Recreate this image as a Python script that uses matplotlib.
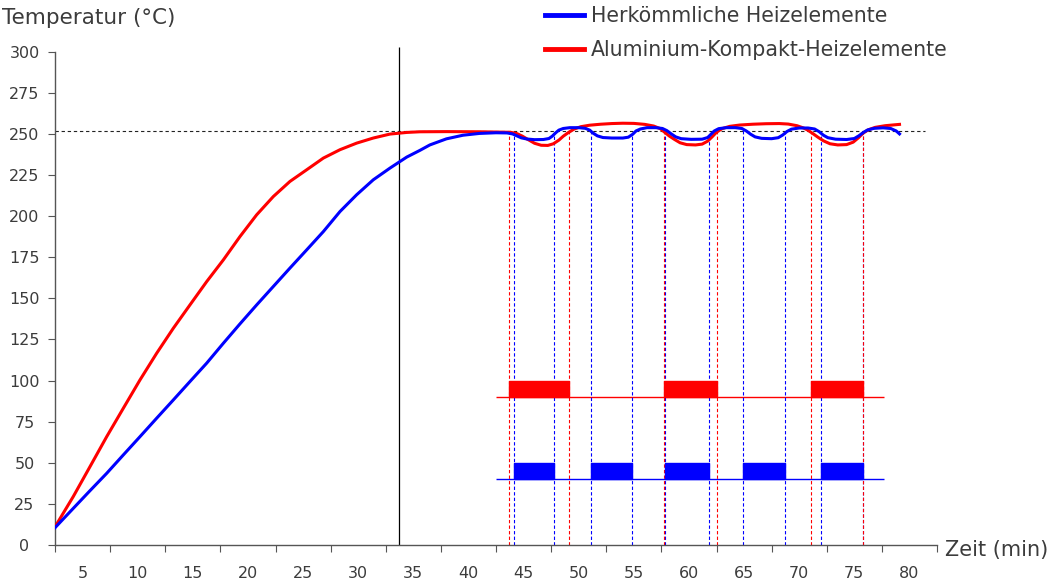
import numpy as np
import matplotlib.pyplot as plt
from matplotlib.lines import Line2D

# ---- data ----
# heating curve, conventional elements (blue)
blue_t = [2.5, 4.16, 5.67, 7.19, 8.70, 10.21, 11.72, 13.23, 14.74, 16.26, 17.77, 19.28, 20.79,
          22.30, 23.81, 25.33, 26.84, 28.35, 29.86, 31.37, 32.88, 34.40, 35.6, 36.5, 38.0, 39.5,
          41.0, 42.5, 43.5,
          44.0, 44.4, 44.8, 45.3, 46.0, 46.8, 47.3, 47.6, 47.9, 48.2, 48.6, 49.2, 50.0, 50.6,
          51.0, 51.3, 51.7, 52.2, 53.0, 54.0, 54.5, 54.9, 55.2, 55.6, 56.2, 57.0, 57.6, 58.0,
          58.4, 58.8, 59.3, 60.2, 61.2, 61.7, 62.0, 62.3, 62.7, 63.4, 64.2, 64.8, 65.2, 65.6,
          66.0, 66.6, 67.5, 68.1, 68.5, 68.9, 69.3, 70.0, 70.8, 71.4, 71.8, 72.2, 72.6, 73.3,
          74.3, 75.0, 75.4, 75.8, 76.2, 76.8, 77.6, 78.3, 78.8, 79.1]
blue_T = [10.5, 22.3, 33.0, 43.6, 54.8, 65.9, 77.1, 88.2, 99.4, 110.6, 122.7, 134.5, 146.0,
          157.2, 168.4, 179.5, 190.6, 202.8, 213.0, 222.1, 229.2, 235.9, 240.0, 243.3, 247.0, 249.2,
          250.3, 250.7, 250.6,
          250.0, 248.8, 247.6, 246.9, 246.5, 246.6, 247.2, 248.6, 250.6, 252.3, 253.3, 253.8, 253.8, 253.4,
          252.3, 250.5, 248.8, 247.8, 247.5, 247.5, 248.0, 249.8, 251.8, 253.0, 253.8, 253.8, 253.3, 252.0,
          250.0, 248.2, 247.1, 246.7, 246.8, 247.8, 249.8, 251.8, 253.2, 253.8, 253.8, 253.3, 251.8, 249.8,
          248.2, 247.3, 247.1, 247.7, 249.3, 251.5, 252.9, 253.6, 253.6, 253.0, 251.4, 249.2, 247.7, 246.8,
          246.6, 247.2, 248.8, 250.8, 252.4, 253.4, 253.7, 253.3, 251.8, 250.0]

# heating curve, aluminium compact elements (red)
red_t = [2.5, 4.16, 5.67, 7.19, 8.70, 10.21, 11.72, 13.23, 14.74, 16.26, 17.77, 19.28, 20.79,
         22.30, 23.81, 25.33, 26.84, 28.35, 29.86, 31.37, 32.88, 34.40, 35.6, 38.0, 41.0, 43.8,
         44.4, 44.9, 45.4, 46.0, 46.6, 47.2, 47.7, 48.2, 48.6, 49.1, 49.6, 50.2, 51.0, 52.0,
         53.0, 54.0, 55.0, 56.0, 56.8, 57.4, 57.8, 58.2, 58.7, 59.2, 59.8, 60.6, 61.2, 61.7,
         62.1, 62.5, 63.0, 63.7, 64.6, 65.8, 67.0, 68.2, 69.0, 69.8, 70.4, 70.8, 71.2, 71.7,
         72.2, 72.8, 73.5, 74.3, 74.9, 75.4, 75.8, 76.3, 76.9, 77.8, 78.6, 79.1]
red_T = [11.0, 29.5, 47.6, 65.9, 83.2, 100.4, 116.6, 131.8, 146.0, 160.2, 173.4, 187.6, 200.8,
         211.9, 221.1, 228.2, 235.3, 240.4, 244.4, 247.5, 249.9, 250.9, 251.3, 251.4, 251.3, 251.0,
         250.2, 248.6, 246.6, 244.3, 243.1, 243.0, 244.0, 246.2, 248.6, 251.0, 253.0, 254.4, 255.3, 255.9,
         256.3, 256.5, 256.4, 255.8, 254.8, 253.2, 251.0, 248.8, 246.6, 244.6, 243.5, 243.3, 243.8, 245.6,
         248.2, 251.0, 253.2, 254.6, 255.4, 255.9, 256.2, 256.3, 256.0, 255.0, 253.6, 252.2, 250.4, 248.0,
         245.8, 244.0, 243.3, 243.5, 245.0, 247.8, 250.5, 252.6, 254.0, 255.0, 255.5, 255.8]

# heater on-times (start, end) in min
blue_on = [(44.1, 47.8), (51.1, 54.8), (57.8, 61.8), (64.9, 68.7), (72.0, 75.8)]
red_on = [(43.7, 49.1), (57.7, 62.5), (71.1, 75.8)]

setpoint = 251.5
t_mark = 33.7
x_labels = list(range(5, 85, 5))
y_ticks = list(range(0, 325, 25))

plt.rcParams['font.family'] = ['DejaVu Sans']
grey = '#3c3c3c'

fig = plt.figure(figsize=(10.51, 5.80), dpi=100)
ax = fig.add_axes([55 / 1051, 1 - 545 / 580, (937 - 55) / 1051, (545 - 51.7) / 580])

ax.plot(red_t, red_T, color='#ff0000', lw=2.2, zorder=4)
ax.plot(blue_t, blue_T, color='#0000ff', lw=2.2, zorder=5)

# on/off bars and baselines
ax.broken_barh([(a, b - a) for a, b in red_on], (90, 10), color='#ff0000', zorder=3)
ax.broken_barh([(a, b - a) for a, b in blue_on], (40, 10), color='#0000ff', zorder=3)
ax.hlines(90, 42.5, 77.7, color='#ff0000', lw=1)
ax.hlines(40, 42.5, 77.7, color='#0000ff', lw=1)

# dashed switching lines from curve down to axis
for a, b in blue_on:
    for t in (a, b):
        ax.vlines(t, 0, np.interp(t, blue_t, blue_T), color='#0000ff', lw=0.8,
                  linestyles=(0, (3, 2)), zorder=2)
for a, b in red_on:
    for t in (a, b):
        ax.vlines(t, 0, np.interp(t, red_t, red_T), color='#ff0000', lw=0.8,
                  linestyles=(0, (3, 2)), zorder=2)

ax.hlines(setpoint, 2.5, 81.4, color='#222222', lw=0.8, linestyles=(0, (3, 2.5)), zorder=1)
ax.vlines(t_mark, 0, 303, color='black', lw=0.9, clip_on=False)

ax.set_xlim(2.5, 82.5)
ax.set_ylim(0, 300)
for s in ['top', 'right']:
    ax.spines[s].set_visible(False)
for s in ['left', 'bottom']:
    ax.spines[s].set_color('#555555')
    ax.spines[s].set_linewidth(1.0)

ax.set_xticks([2.5 + 5 * k for k in range(17)])
ax.set_xticklabels([])
ax.set_xticks(x_labels, minor=True)
ax.set_xticklabels([str(v) for v in x_labels], minor=True)
ax.tick_params(axis='x', which='major', length=5, color='#555555', direction='out')
ax.tick_params(axis='x', which='minor', length=0, pad=15, labelsize=11.5, labelcolor=grey)

ax.set_yticks(y_ticks)
ax.set_yticklabels([str(v) for v in y_ticks], ha='center')
ax.tick_params(axis='y', length=5, color='#555555', pad=17, labelsize=11.5, labelcolor=grey)

fig.text(2 / 1051, 1 - 18 / 580, 'Temperatur (°C)', fontsize=15.5, color=grey, va='center', ha='left')
fig.text(945 / 1051, 1 - 550 / 580, 'Zeit (min)', fontsize=15, color=grey, va='center', ha='left')

handles = [Line2D([], [], color='#0000ff', lw=3.5), Line2D([], [], color='#ff0000', lw=3.5)]
fig.legend(handles, ['Herkömmliche Heizelemente', 'Aluminium-Kompakt-Heizelemente'],
           loc='upper left', bbox_to_anchor=(526 / 1051, 1 + 12 / 580), frameon=False,
           fontsize=14.8, labelcolor=grey, handlelength=1.9, handletextpad=0.35, labelspacing=0.68)

fig.savefig('out.png', dpi=100)
